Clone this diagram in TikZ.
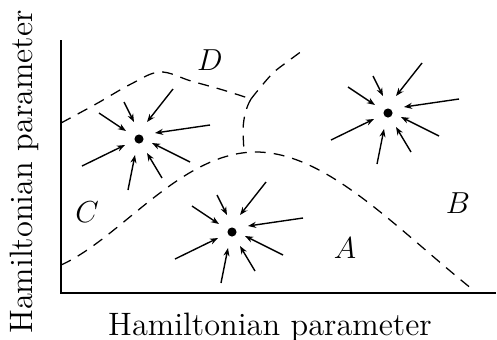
\documentclass[tikz,border=0pt]{standalone}
\usepackage{tikz}
\usetikzlibrary{arrows.meta,calc}

\begin{document}
\begin{tikzpicture}[x=0.395pt,y=0.395pt,font=\fontsize{12.8}{15}\selectfont,
 axis/.style={line width=.8pt,draw=black},
 boundary/.style={line width=.5pt,dash pattern=on 4.3pt off 3.2pt},
 flowin/.style={-{Stealth[length=3.2pt,width=2.4pt]},line width=.55pt},
 attractor/.style={circle,fill=black,inner sep=0pt,minimum size=3.6pt},
 region/.style={inner sep=1pt}]
\useasboundingbox (-61,-46) rectangle (436,293);
% axes
\coordinate (origin) at (0,0);
\coordinate (ytop) at (0,253);
\coordinate (xend) at (435,0);
\draw[axis] (ytop)--(origin)--(xend);
\node[anchor=base] (xlabel) at (209,-42) {Hamiltonian parameter};
\node[anchor=base,rotate=90] (ylabel) at (-28,121) {Hamiltonian parameter};
% phase boundaries
\coordinate (j1) at (190,194);
\coordinate (j2) at (183,141);
\draw[boundary] (0,28) .. controls (60,55) and (120,141) .. (195,141)
 .. controls (265,141) and (335,65) .. (411,4);
\draw[boundary] plot[smooth,tension=.6] coordinates {(0,170) (35,189) (70,209) (99,221) (130,212) (162,203) (190,194)};
\draw[boundary] (j1) .. controls (184,184) and (182,172) .. (182,160) -- (j2);
\draw[boundary] plot[smooth,tension=.6] coordinates {(190,194) (198,204) (212,220) (226,231) (245,245)};
% fixed points and flow
\foreach \cx/\cy [count=\i] in {78/154,171/61,327/180}{
 \node[attractor] (p\i) at (\cx,\cy) {};
 \foreach \sx/\sy/\ex/\ey in {-40/26/-13/8,-15/37/-5/17,34/50/8/17,71/14/16/6,51/-23/13/-4,23/-39/8/-14,-11/-51/-4/-16,-57/-27/-14/-6}
  \draw[flowin] ($(p\i)+(\sx,\sy)$)--($(p\i)+(\ex,\ey)$);
}
\node[region] (regA) at (284,45) {$A$};
\node[region] (regB) at (397,90) {$B$};
\node[region] (regC) at (26,81) {$C$};
\node[region] (regD) at (149,233) {$D$};
\end{tikzpicture}
\end{document}
